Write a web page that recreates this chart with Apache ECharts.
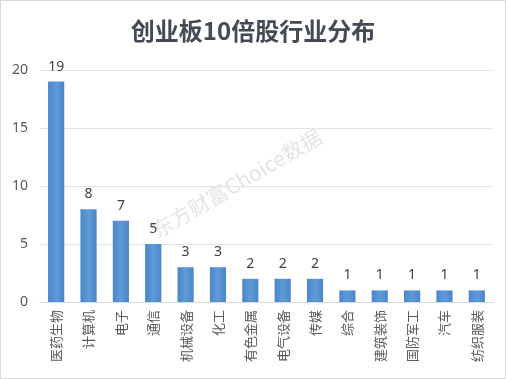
<!DOCTYPE html>
<html><head><meta charset="utf-8">
<script src="https://cdn.jsdelivr.net/npm/echarts@6/dist/echarts.min.js"></script>
<style>
html,body{margin:0;padding:0;background:#fff;}
#c{width:504px;height:377px;border:1px solid #d9d9d9;}
</style></head>
<body><div id="c"></div>
<script>
const title = '创业板10倍股行业分布';
const categories = ['医药生物','计算机','电子','通信','机械设备','化工','有色金属','电气设备','传媒','综合','建筑装饰','国防军工','汽车','纺织服装'];
const counts = [19,8,7,5,3,3,2,2,2,1,1,1,1,1];
const yTicks = [0,5,10,15,20];

const chart = echarts.init(document.getElementById('c'));
chart.setOption({
  animation:false,
  title:{text:title,left:'center',top:13,textStyle:{fontFamily:'Noto Sans CJK SC',fontSize:24,fontWeight:'bold',color:'#434a54'}},
  grid:{left:39,right:12,top:69,bottom:76},
  xAxis:{type:'category',data:categories,
    axisLine:{lineStyle:{color:'#d9d9d9'}},axisTick:{show:false},
    axisLabel:{rotate:90,fontFamily:'Noto Sans CJK SC',fontSize:13,color:'#595959',margin:8,interval:0}},
  yAxis:{type:'value',min:yTicks[0],max:yTicks[yTicks.length-1],interval:5,
    axisLine:{show:false},axisTick:{show:false},
    splitLine:{lineStyle:{color:'#e3e3e3'}},
    axisLabel:{fontFamily:'Noto Sans',fontSize:14,color:'#595959',margin:12}},
  graphic:[{type:'text',x:158,y:240,rotation:0.53,z:-1,
    style:{text:'东方财富Choice数据',fontFamily:'Noto Sans CJK SC',fontSize:21,fill:'#e4e4e4',verticalAlign:'bottom',align:'left'}}],
  series:[{type:'bar',data:counts,barWidth:'50%',
    itemStyle:{color:new echarts.graphic.LinearGradient(0,0,1,0,[{offset:0,color:'#4a86c8'},{offset:0.5,color:'#5f9bd8'},{offset:1,color:'#4a86c8'}])},
    label:{show:true,position:'top',distance:8,fontFamily:'Noto Sans',fontSize:14,color:'#404040'}}]
});
</script></body></html>
